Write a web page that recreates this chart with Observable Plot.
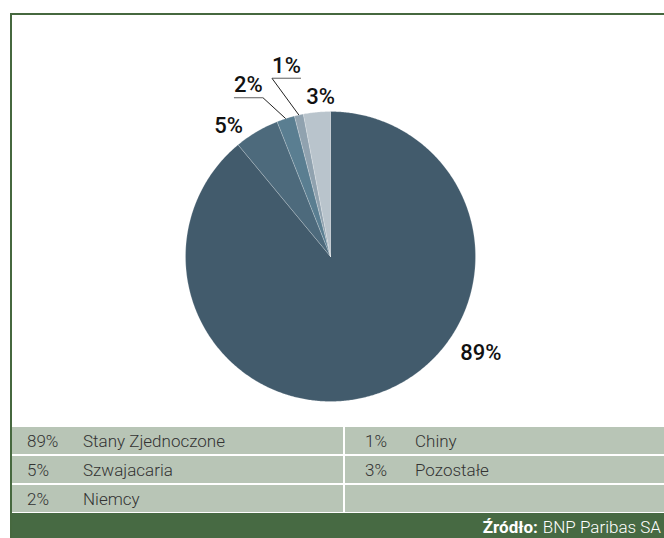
<!DOCTYPE html>
<html>
<head>
<meta charset="utf-8">
<script src="https://cdn.jsdelivr.net/npm/d3@7"></script>
<script src="https://cdn.jsdelivr.net/npm/@observablehq/plot@0.6"></script>
<style>
  html, body { margin: 0; padding: 0; background: #fff; }
  body { width: 664px; height: 538px; overflow: hidden; position: relative; font-family: "Roboto", sans-serif; }
  #frame { position: absolute; left: 10px; top: 13px; width: 680px; height: 525px; overflow: hidden;
           border-left: 2px solid #46683f; border-top: 2px solid #46683f; }
  #chart svg { display: block; }
  .legend { display: grid; grid-template-columns: 331px 1fr; column-gap: 2px; row-gap: 2px; }
  .cell { background: #b8c5b6; height: 27px; display: flex; align-items: center; color: #333; font-size: 17px; font-weight: 300; }
  .pct { display: inline-block; }
  .footer { position: absolute; left: -1px; width: 653px; top: 498px; height: 27px; background: #476a43; color: #fff;
            font-size: 17px; font-weight: 300; display: flex; align-items: center; justify-content: flex-end; padding-right: 3px; box-sizing: border-box; }
  .footer b { font-weight: 700; margin-right: 5px; }
</style>
</head>
<body>
<div id="frame">
  <div id="chart"></div>
  <div class="legend" id="legend"></div>
  <div class="footer"><span><b>Źródło:</b>BNP Paribas SA</span></div>
</div>
<script>
// ---- data ----
const names  = ["Stany Zjednoczone", "Szwajacaria", "Niemcy", "Chiny", "Pozostałe"];
const shares = [89, 5, 2, 1, 3];
const labels = ["89%", "5%", "2%", "1%", "3%"];
const colors = ["#425b6c", "#4d6a7c", "#5a7e91", "#90a2af", "#b9c4cc"];

// ---- label layout (polar: degrees clockwise from top, radius in pie radii) ----
const labelAngle  = [122.6, 321.9, 334.4, 347.0, 356.4];
const labelRadius = [1.23, 1.14, 1.31, 1.35, 1.10];
const leaderSide  = [null, null, "right", "left", null];

const R = 145; // pie radius in px
const cx = 318, cy = 241; // pie centre within svg
const rad = d => d * Math.PI / 180;

const arcs = d3.pie().sort(null).value(d => d)(shares);

const pts = [];
arcs.forEach((a, i) => {
  const n = Math.max(2, Math.ceil((a.endAngle - a.startAngle) / (Math.PI / 360)));
  pts.push({i, x: 0, y: 0});
  for (let k = 0; k <= n; k++) {
    const t = a.startAngle + (a.endAngle - a.startAngle) * k / n;
    pts.push({i, x: Math.sin(t), y: Math.cos(t)});
  }
  pts.push({i, x: 0, y: 0});
});

const labelData = labels.map((l, i) => ({
  i, label: l,
  x: labelRadius[i] * Math.sin(rad(labelAngle[i])),
  y: labelRadius[i] * Math.cos(rad(labelAngle[i]))
}));

const half = 14.5 / R, under = 12.5 / R;
const underlines = labelData.filter(d => leaderSide[d.i]).map(d => ({
  x1: d.x - half, x2: d.x + half, y1: d.y - under, y2: d.y - under
}));
const leaders = labelData.filter(d => leaderSide[d.i]).map(d => {
  const mid = (arcs[d.i].startAngle + arcs[d.i].endAngle) / 2;
  return {
    x1: leaderSide[d.i] === "right" ? d.x + half : d.x - half,
    y1: d.y - under,
    x2: Math.sin(mid), y2: Math.cos(mid)
  };
});

const chart = Plot.plot({
  width: 680, height: 412,
  margin: 0,
  x: {domain: [-1, 1], range: [cx - R, cx + R], axis: null},
  y: {domain: [-1, 1], range: [cy + R, cy - R], axis: null},
  color: {type: "identity"},
  style: {background: "white"},
  marks: [
    Plot.line(pts, {x: "x", y: "y", z: "i", fill: d => colors[d.i], stroke: "white", strokeWidth: 0.6, strokeOpacity: 0.35}),
    Plot.link(underlines, {x1: "x1", y1: "y1", x2: "x2", y2: "y2", stroke: "#777", strokeWidth: 1.2}),
    Plot.link(leaders, {x1: "x1", y1: "y1", x2: "x2", y2: "y2", stroke: "#222", strokeWidth: 1}),
    Plot.text(labelData, {x: "x", y: "y", text: "label", fill: "#111", fontSize: 22, fontWeight: 500,
      fontFamily: "Roboto, sans-serif", textAnchor: "middle", lineAnchor: "middle"})
  ]
});
document.getElementById("chart").appendChild(chart);

// ---- legend table ----
const order = [0, 3, 1, 4, 2, null];
const legend = document.getElementById("legend");
order.forEach((idx, k) => {
  const cell = document.createElement("div");
  cell.className = "cell";
  const col = k % 2;
  if (idx !== null) {
    const p = document.createElement("span");
    p.className = "pct";
    p.textContent = labels[idx];
    p.style.marginLeft = col === 0 ? "15px" : "20px";
    p.style.width = col === 0 ? "56px" : "50px";
    const n = document.createElement("span");
    n.textContent = names[idx];
    cell.appendChild(p); cell.appendChild(n);
  }
  legend.appendChild(cell);
});
</script>
</body>
</html>
